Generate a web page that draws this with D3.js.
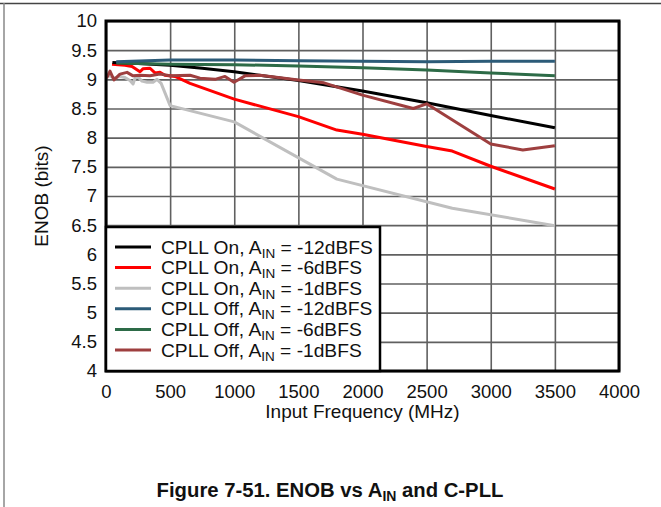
<!DOCTYPE html>
<html><head><meta charset="utf-8">
<script src="https://cdn.jsdelivr.net/npm/d3@7"></script>
<style>
html,body{margin:0;padding:0;background:#fff;}
svg{display:block;font-family:"Liberation Sans",Arial,sans-serif;}
</style></head>
<body><svg id="c" width="661" height="507"></svg>
<script>
// ---- data ----
const xTicks = [0,500,1000,1500,2000,2500,3000,3500,4000];
const yTicks = [4,4.5,5,5.5,6,6.5,7,7.5,8,8.5,9,9.5,10];

const onM12Freq = [50,250,500,750,1000,1500,2000,2500,3000,3500];
const onM12Enob = [9.29,9.27,9.24,9.19,9.13,8.98,8.80,8.60,8.38,8.17];

const onM6Freq = [47,148,203,265,288,343,382,421,460,538,655,1000,1500,1800,2000,2500,2700,3000,3500];
const onM6Enob = [9.26,9.24,9.22,9.13,9.18,9.19,9.11,9.12,9.07,9.05,8.93,8.66,8.36,8.13,8.06,7.85,7.77,7.51,7.12];

const onM1Freq = [15,70,109,148,187,211,226,250,281,320,367,398,430,500,1000,1800,2700,3500];
const onM1Enob = [9.07,9.02,9.05,9.03,8.98,8.92,9.02,9.04,8.97,8.95,8.95,9.00,8.93,8.55,8.27,7.29,6.79,6.49];

const offM12Freq = [80,500,1000,1500,2000,2500,3000,3500];
const offM12Enob = [9.30,9.33,9.33,9.32,9.31,9.30,9.31,9.31];

const offM6Freq = [80,500,1000,1500,2000,2500,3000,3500];
const offM6Enob = [9.28,9.26,9.25,9.23,9.20,9.16,9.11,9.06];

const offM1Freq = [5,31,62,109,164,211,265,343,421,499,655,733,850,928,998,1084,1200,1500,1700,2000,2396,2500,3000,3250,3500];
const offM1Enob = [9.02,9.14,8.99,9.09,9.12,9.06,9.07,9.06,9.09,9.06,9.07,9.02,9.00,9.05,8.95,9.06,9.07,8.99,8.94,8.73,8.50,8.58,7.89,7.79,7.86];

const seriesNames = ["CPLL On, A|IN| = -12dBFS","CPLL On, A|IN| = -6dBFS","CPLL On, A|IN| = -1dBFS",
                     "CPLL Off, A|IN| = -12dBFS","CPLL Off, A|IN| = -6dBFS","CPLL Off, A|IN| = -1dBFS"];
const seriesColors = ["#000000","#ff0000","#bfbfbf","#2c5b78","#2d6b47","#9e3f3f"];
const seriesFreq = [onM12Freq,onM6Freq,onM1Freq,offM12Freq,offM6Freq,offM1Freq];
const seriesEnob = [onM12Enob,onM6Enob,onM1Enob,offM12Enob,offM6Enob,offM1Enob];

// ---- layout ----
const svg = d3.select("#c");
const L=106, T=21, R=619, B=371;
const x = d3.scaleLinear().domain([0,4000]).range([L,R]);
const y = d3.scaleLinear().domain([4,10]).range([B,T]);
const FS = 18.5;

// outer frame lines
svg.append("line").attr("x1",0).attr("x2",661).attr("y1",3.5).attr("y2",3.5).attr("stroke","#444").attr("stroke-width",1.5);
svg.append("line").attr("x1",4).attr("x2",4).attr("y1",3).attr("y2",507).attr("stroke","#888").attr("stroke-width",1.5);

// grid
const gx = svg.append("g").attr("transform",`translate(0,${B})`)
  .call(d3.axisBottom(x).tickValues(xTicks).tickSize(-(B-T)).tickPadding(14).tickFormat(d3.format("d")));
gx.select(".domain").remove();
gx.selectAll(".tick line").attr("stroke","#606060").attr("stroke-width",1.6);
gx.selectAll(".tick text").attr("font-size",FS).attr("fill","#111").attr("font-family","Liberation Sans, Arial, sans-serif");

const gy = svg.append("g").attr("transform",`translate(${L},0)`)
  .call(d3.axisLeft(y).tickValues(yTicks).tickSize(-(R-L)).tickPadding(9).tickFormat(d=>String(d)));
gy.select(".domain").remove();
gy.selectAll(".tick line").attr("stroke","#606060").attr("stroke-width",1.6);
gy.selectAll(".tick text").attr("font-size",FS).attr("fill","#111").attr("font-family","Liberation Sans, Arial, sans-serif");

// lines
const line = d3.line().x(d=>x(d[0])).y(d=>y(d[1]));
const order = [2,1,0,5,4,3];
order.forEach(i=>{
  const pts = seriesFreq[i].map((f,j)=>[f,seriesEnob[i][j]]);
  svg.append("path").datum(pts).attr("d",line).attr("fill","none")
    .attr("stroke",seriesColors[i]).attr("stroke-width",3).attr("stroke-linejoin","round");
});

// plot border
svg.append("rect").attr("x",L).attr("y",T).attr("width",R-L).attr("height",B-T)
  .attr("fill","none").attr("stroke","#000").attr("stroke-width",3);

// legend
const lg = svg.append("g");
lg.append("rect").attr("x",106).attr("y",227).attr("width",274).attr("height",144)
  .attr("fill","#fff").attr("stroke","#000").attr("stroke-width",2.5);
seriesNames.forEach((name,i)=>{
  const yy = 247 + i*20.6;
  lg.append("line").attr("x1",115).attr("x2",151).attr("y1",yy).attr("y2",yy)
    .attr("stroke",seriesColors[i]).attr("stroke-width",3);
  const parts = name.split("|");
  const t = lg.append("text").attr("x",161).attr("y",yy+6.5).attr("font-size",19.2).attr("fill","#111");
  t.append("tspan").text(parts[0]);
  t.append("tspan").text(parts[1]).attr("font-size",13.5).attr("dy",4);
  t.append("tspan").text(parts[2]).attr("dy",-4);
});

// axis titles
svg.append("text").attr("x",(L+R)/2).attr("y",418).attr("text-anchor","middle")
  .attr("font-size",19).attr("fill","#111").text("Input Frequency (MHz)");
svg.append("text").attr("transform",`translate(48,${(T+B)/2}) rotate(-90)`).attr("text-anchor","middle")
  .attr("font-size",19).attr("fill","#111").text("ENOB (bits)");

// caption
const cap = svg.append("text").attr("x",330).attr("y",497).attr("text-anchor","middle")
  .attr("font-size",20.3).attr("font-weight","bold").attr("fill","#111");
cap.append("tspan").text("Figure 7-51. ENOB vs A");
cap.append("tspan").text("IN").attr("font-size",14).attr("dy",4);
cap.append("tspan").text(" and C-PLL").attr("dy",-4);
</script></body></html>
